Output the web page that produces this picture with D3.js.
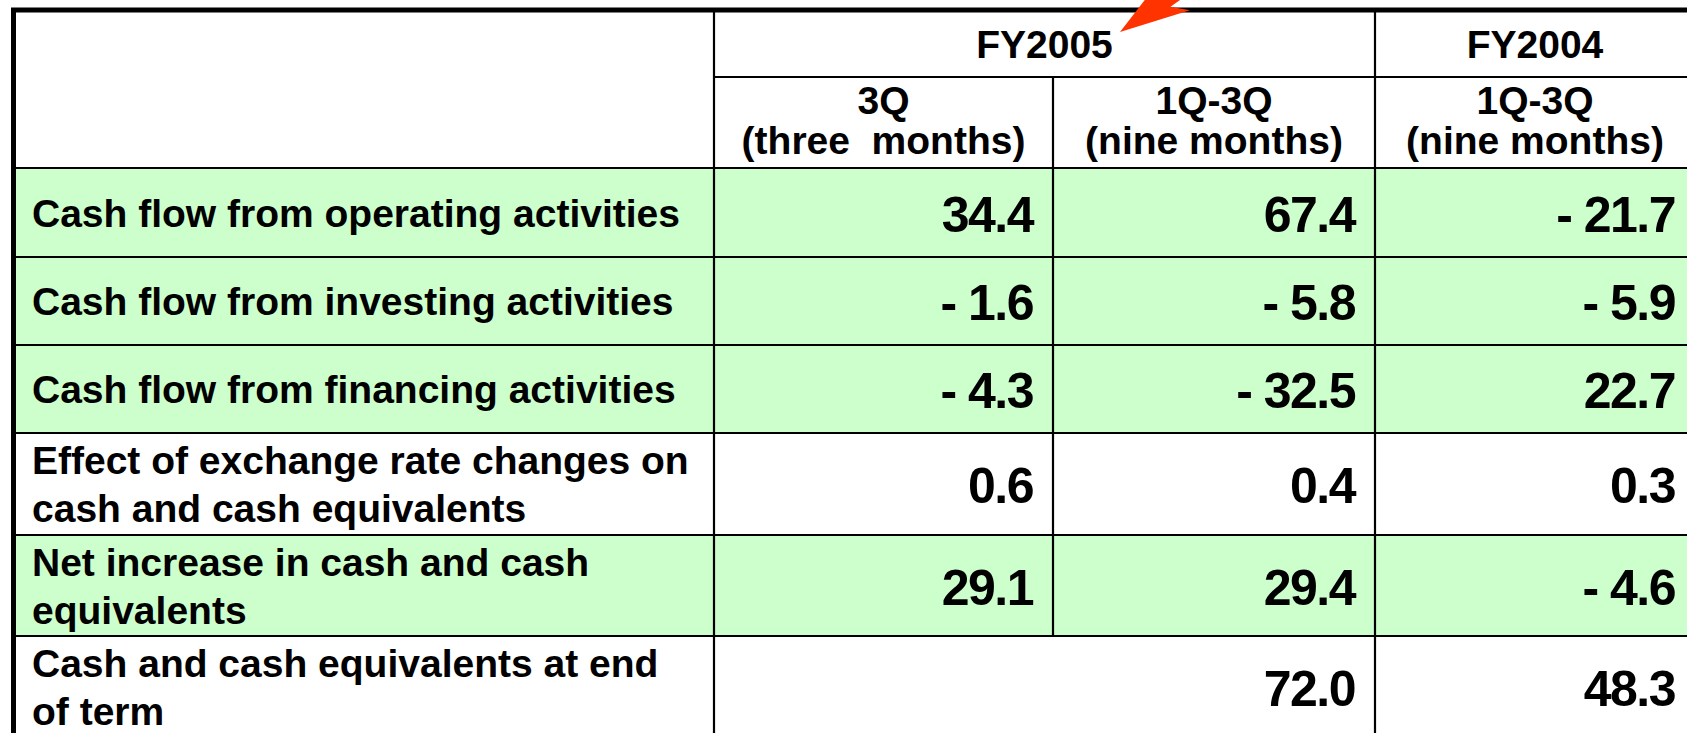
<!DOCTYPE html>
<html lang="en">
<head>
<meta charset="utf-8">
<style>
  html, body { margin: 0; padding: 0; background: white; }
  svg { display: block; font-family: 'Liberation Sans', Arial, sans-serif; font-weight: bold; }
  .label { font-size: 39px; fill: black; }
  .head { font-size: 39px; fill: black; white-space: pre; }
  .num { font-size: 50px; fill: black; letter-spacing: -1.5px; }
  .grid line { stroke: black; stroke-width: 2.2; }
</style>
</head>
<body>
<svg width="1687" height="733"></svg>
<script src="https://d3js.org/d3.v7.min.js"></script>
<script>

// row labels (each entry is the wrapped lines of one row)
const rowLabels = [
  ["Cash flow from operating activities"],
  ["Cash flow from investing activities"],
  ["Cash flow from financing activities"],
  ["Effect of exchange rate changes on", "cash and cash equivalents"],
  ["Net increase in cash and cash", "equivalents"],
  ["Cash and cash equivalents at end", "of term"]
]
const yearHeaders = ["FY2005", "FY2004"]
const periodHeaders = [
  ["3Q", "(three  months)"],
  ["1Q-3Q", "(nine months)"],
  ["1Q-3Q", "(nine months)"]
]
// values, billions of yen; null = merged cell
const fy2005_3Q = [34.4, -1.6, -4.3, 0.6, 29.1, null]
const fy2005_1Q3Q = [67.4, -5.8, -32.5, 0.4, 29.4, 72.0]
const fy2004_1Q3Q = [-21.7, -5.9, 22.7, 0.3, -4.6, 48.3]
const shadedRows = [true, true, true, false, true, false]

// layout
const width = 1687, height = 733
const colEdges = [13.5, 714, 1053, 1375, 1695]
const rowEdges = [10, 77, 168, 257, 345, 433, 535, 636, 737]
const pad = 20
const lineGap = 48
const green = "#CCFFCC"

const svg = d3.select("svg")

const bodyRows = d3.range(rowLabels.length)
const rowTop = d3.scaleOrdinal().domain(bodyRows).range(rowEdges.slice(2))
const rowBottom = d3.scaleOrdinal().domain(bodyRows).range(rowEdges.slice(3))
const rowMid = i => (rowTop(i) + rowBottom(i)) / 2

const fmt = v => v < 0 ? "- " + d3.format(".1f")(-v) : d3.format(".1f")(v)

// row backgrounds
svg.append("g").selectAll("rect")
  .data(bodyRows.filter(i => shadedRows[i]))
  .join("rect")
  .attr("x", colEdges[0])
  .attr("y", i => rowTop(i))
  .attr("width", colEdges[4] - colEdges[0])
  .attr("height", i => rowBottom(i) - rowTop(i))
  .attr("fill", green)

// header text
const head = svg.append("g")
head.selectAll("text.year")
  .data(yearHeaders)
  .join("text")
  .attr("class", "head year")
  .attr("text-anchor", "middle")
  .attr("x", (d, i) => i == 0 ? (colEdges[1] + colEdges[3]) / 2 : (colEdges[3] + colEdges[4]) / 2)
  .attr("y", 58)
  .text(d => d)

periodHeaders.forEach((lines, c) => {
  head.append("text")
    .attr("class", "head")
    .attr("text-anchor", "middle")
    .selectAll("tspan")
    .data(lines)
    .join("tspan")
    .attr("x", (colEdges[c + 1] + colEdges[c + 2]) / 2)
    .attr("y", (d, i) => 114 + i * 40)
    .text(d => d)
})

// row labels
svg.append("g").selectAll("text")
  .data(rowLabels)
  .join("text")
  .attr("class", "label")
  .each(function(lines, i) {
    const y0 = rowMid(i) + 14 - (lines.length - 1) * lineGap / 2
    d3.select(this).selectAll("tspan")
      .data(lines)
      .join("tspan")
      .attr("x", 32)
      .attr("y", (d, k) => y0 + k * lineGap)
      .text(d => d)
  })

// numbers
const series = [fy2005_3Q, fy2005_1Q3Q, fy2004_1Q3Q]
series.forEach((vals, c) => {
  svg.append("g").selectAll("text")
    .data(vals.map((v, i) => ({v, i})).filter(d => d.v !== null))
    .join("text")
    .attr("class", "num")
    .attr("text-anchor", "end")
    .attr("x", colEdges[c + 2] - pad)
    .attr("y", d => rowMid(d.i) + 19)
    .text(d => fmt(d.v))
})

// grid lines
const grid = svg.append("g").attr("class", "grid")
// horizontal
grid.append("line").attr("x1", colEdges[1]).attr("x2", colEdges[4]).attr("y1", rowEdges[1]).attr("y2", rowEdges[1])
rowEdges.slice(2, 8).forEach(y => {
  grid.append("line").attr("x1", colEdges[0]).attr("x2", colEdges[4]).attr("y1", y).attr("y2", y)
})
// vertical
grid.append("line").attr("x1", colEdges[1]).attr("x2", colEdges[1]).attr("y1", rowEdges[0]).attr("y2", rowEdges[8])
grid.append("line").attr("x1", colEdges[2]).attr("x2", colEdges[2]).attr("y1", rowEdges[1]).attr("y2", rowEdges[7])
grid.append("line").attr("x1", colEdges[3]).attr("x2", colEdges[3]).attr("y1", rowEdges[0]).attr("y2", rowEdges[8])
// thick outer border (top and left)
grid.append("line").attr("x1", colEdges[0] - 2.5).attr("x2", colEdges[4]).attr("y1", rowEdges[0]).attr("y2", rowEdges[0]).style("stroke-width", 5)
grid.append("line").attr("x1", colEdges[0]).attr("x2", colEdges[0]).attr("y1", rowEdges[0]).attr("y2", rowEdges[8]).style("stroke-width", 5)

// red call-out arrow pointing at FY2005
const tip = [1120, 32], u = [0.82, -0.57], nrm = [0.57, 0.82]
const pt = (a, b) => [tip[0] + a * u[0] + b * nrm[0], tip[1] + a * u[1] + b * nrm[1]]
svg.append("path")
  .attr("d", d3.line()([pt(0, 0), pt(70, 22), pt(56, 8), pt(130, 8), pt(130, -8), pt(56, -8), pt(70, -22)]) + "Z")
  .attr("fill", "#FF3300")

</script>
</body>
</html>
